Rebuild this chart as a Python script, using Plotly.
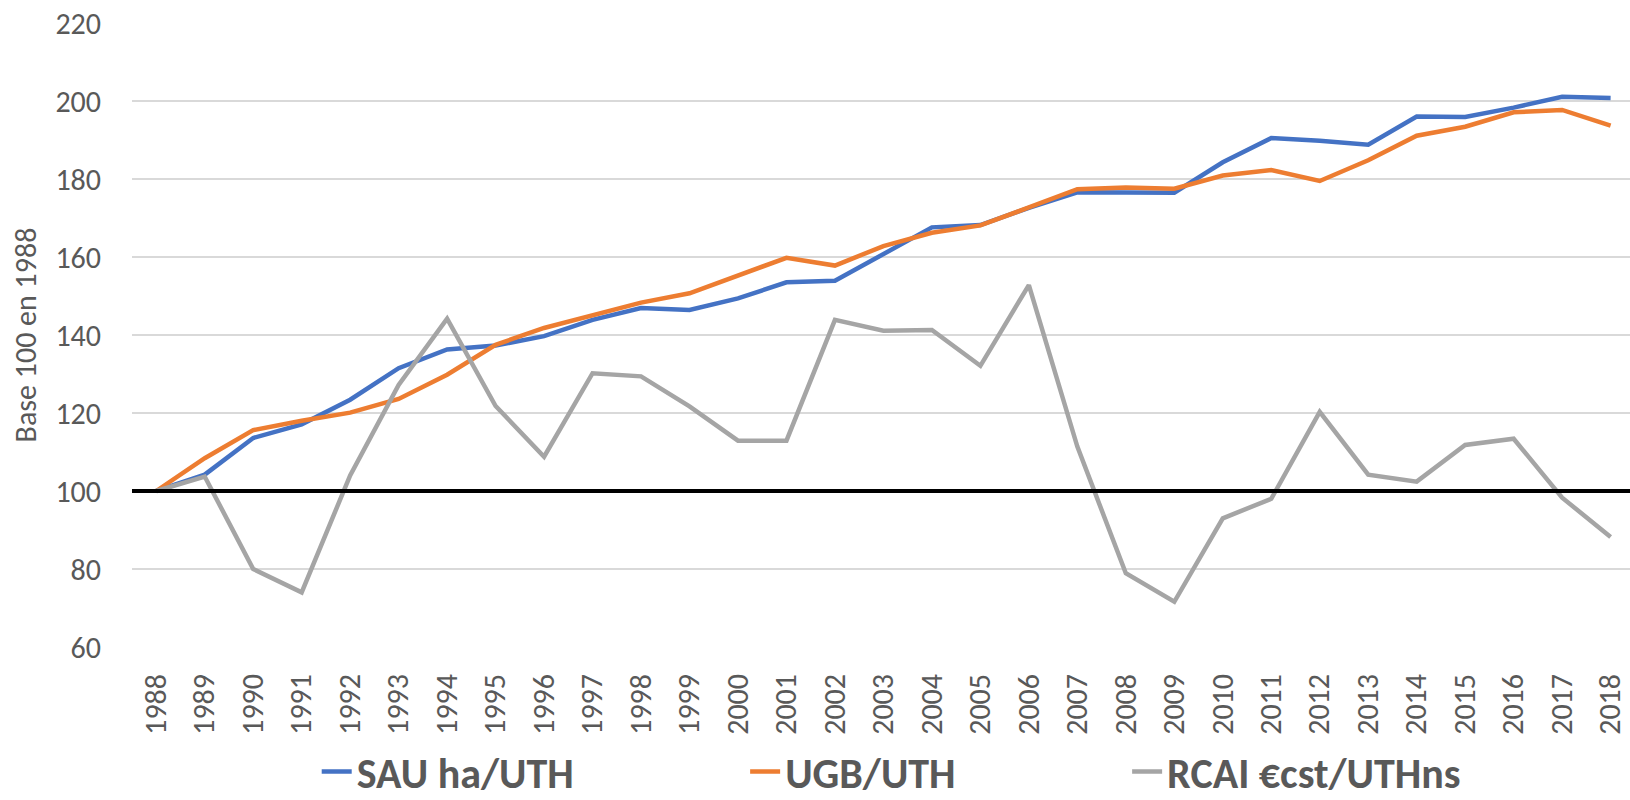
import plotly.graph_objects as go

years = list(range(1988, 2019))

# indices, base 100 en 1988
sau_ha_uth = [100, 104.2, 113.6, 117.1, 123.4, 131.5, 136.3, 137.3, 139.7, 143.9,
              146.9, 146.4, 149.4, 153.5, 153.9, 160.6, 167.6, 168.2, 172.6, 176.6,
              176.6, 176.5, 184.3, 190.5, 189.8, 188.8, 196.0, 195.9, 198.3, 201.1, 200.8]
ugb_uth = [100, 108.4, 115.6, 118.0, 120.1, 123.6, 129.8, 137.5, 141.8, 145.1,
           148.3, 150.7, 155.3, 159.8, 157.8, 162.8, 166.2, 168.1, 172.7, 177.4,
           177.8, 177.5, 180.9, 182.3, 179.5, 184.8, 191.1, 193.4, 197.1, 197.7, 193.7]
rcai_uth = [100, 103.7, 80.0, 74.0, 104.0, 127.2, 144.2, 121.8, 108.8, 130.2,
            129.4, 121.7, 112.9, 112.9, 143.9, 141.1, 141.3, 132.1, 152.8, 111.4,
            78.9, 71.6, 93.0, 98.0, 120.3, 104.2, 102.4, 111.8, 113.4, 98.3, 88.2]

font_family = "Carlito, Lato, sans-serif"
grey_txt = "#595959"

fig = go.Figure()
fig.add_trace(go.Scatter(x=years, y=sau_ha_uth, mode="lines", name="SAU ha/UTH",
                         line=dict(color="#4472C4", width=4.5), legend="legend"))
fig.add_trace(go.Scatter(x=years, y=ugb_uth, mode="lines", name="UGB/UTH",
                         line=dict(color="#ED7D31", width=4.5), legend="legend2"))
fig.add_trace(go.Scatter(x=years, y=rcai_uth, mode="lines", name="RCAI €cst/UTHns",
                         line=dict(color="#A5A5A5", width=4.5), legend="legend3"))

# base line at 100
fig.add_hline(y=100, line=dict(color="black", width=4), layer="above")

# one legend per series so the three entries sit where the original has them
leg = dict(orientation="h", xanchor="left", y=-0.2, yanchor="middle",
           font=dict(size=42, color=grey_txt, weight="bold"), itemwidth=30,
           bgcolor="rgba(0,0,0,0)")

fig.update_layout(
    width=1630, height=800,
    # autoexpand off: the legends must not squeeze the plot area
    margin=dict(l=132, r=0, t=23, b=153, autoexpand=False),
    plot_bgcolor="white", paper_bgcolor="white",
    font=dict(family=font_family, color=grey_txt, size=30),
    showlegend=True,
    legend=dict(leg, x=0.1233),
    legend2=dict(leg, x=0.4093),
    legend3=dict(leg, x=0.6643),
)
fig.update_xaxes(
    range=[1987.5, 2018.4], automargin=False,
    tickvals=years, ticktext=[str(y) for y in years],
    tickangle=-90, showgrid=False, zeroline=False, showline=False,
    ticks="", ticklabelstandoff=20, ticklabeloverflow="allow",
    tickfont=dict(size=30, color=grey_txt),
)
fig.update_yaxes(
    range=[60, 220], dtick=20, tick0=60, automargin=False,
    showgrid=True, gridcolor="#D9D9D9", gridwidth=1.5,
    zeroline=False, showline=False, ticks="", ticklabelstandoff=30,
    tickfont=dict(size=30, color=grey_txt),
    title=dict(text="Base 100 en 1988", font=dict(size=30, color=grey_txt), standoff=9),
)

# drop the browser's default 8px body margin so the figure sits at the page corner
fig.write_html("out.html", config={"displayModeBar": False},
               post_script="document.body.style.margin='0';")
